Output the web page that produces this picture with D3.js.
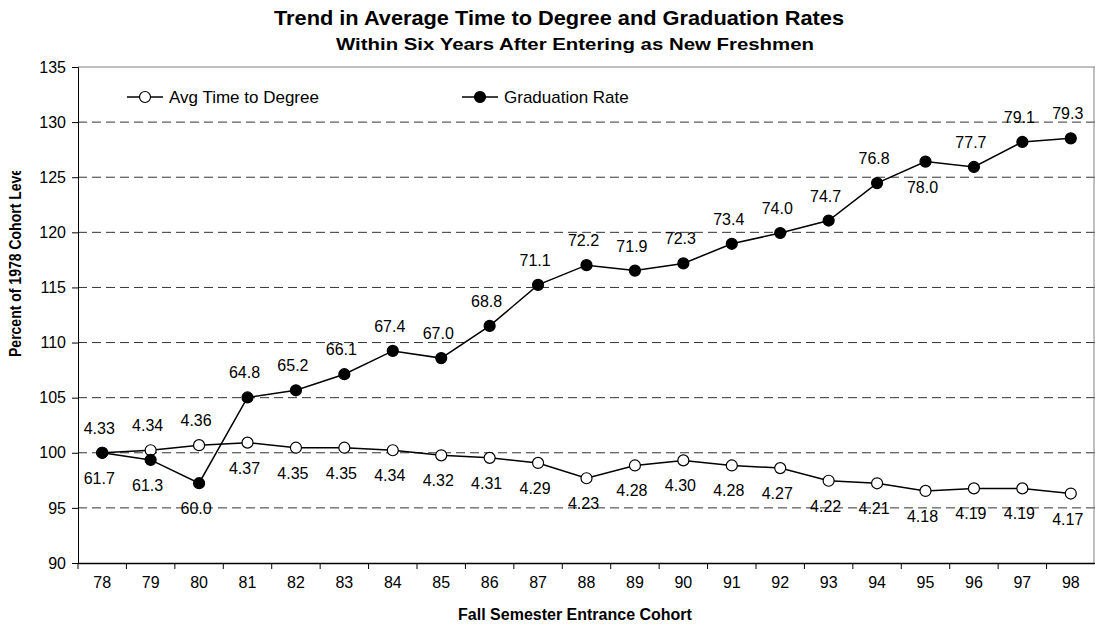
<!DOCTYPE html>
<html>
<head>
<meta charset="utf-8">
<script src="https://cdn.jsdelivr.net/npm/d3@7"></script>
<style>
  html, body { margin: 0; padding: 0; background: #fff; }
  svg { display: block; font-family: Arial, "Liberation Sans", sans-serif; }
</style>
</head>
<body>
<div id="chart"></div>
<script>
// Cohorts (fall entering year)
const cohorts = ['78','79','80','81','82','83','84','85','86','87','88','89','90','91','92','93','94','95','96','97','98'];

// Avg time to degree, as percent of 1978 level (plotted) and in years (labels)
const timeIndex = [100.0, 100.23, 100.69, 100.92, 100.46, 100.46, 100.23, 99.77, 99.54, 99.08, 97.69,
                   98.85, 99.31, 98.85, 98.61, 97.46, 97.23, 96.54, 96.77, 96.77, 96.30];
const timeLabels = ['4.33','4.34','4.36','4.37','4.35','4.35','4.34','4.32','4.31','4.29','4.23',
                    '4.28','4.30','4.28','4.27','4.22','4.21','4.18','4.19','4.19','4.17'];
const timeLabelPos = ['up','up','up','down','down','down','down','down','down','down','down',
                      'down','down','down','down','down','down','down','down','down','down'];

// Graduation rate, as percent of 1978 level (plotted) and in percent (labels)
const gradIndex = [100.0, 99.35, 97.24, 105.02, 105.67, 107.13, 109.24, 108.59, 111.51, 115.23, 117.02,
                   116.53, 117.18, 118.96, 119.94, 121.07, 124.47, 126.42, 125.93, 128.20, 128.53];
const gradLabels = ['61.7','61.3','60.0','64.8','65.2','66.1','67.4','67.0','68.8','71.1','72.2',
                    '71.9','72.3','73.4','74.0','74.7','76.8','78.0','77.7','79.1','79.3'];
const gradLabelPos = ['down','down','down','up','up','up','up','up','up','up','up',
                      'up','up','up','up','up','up','down','up','up','up'];

const yTicks = [90, 95, 100, 105, 110, 115, 120, 125, 130, 135];

const W = 1095, H = 630;
const plot = { left: 78, right: 1095, top: 67, bottom: 563 };

const svg = d3.select('#chart').append('svg')
    .attr('width', W)
    .attr('height', H);

const x = d3.scaleBand().domain(cohorts).range([plot.left, plot.right]);
const cx = d => x(d) + x.bandwidth() / 2;
const y = d3.scaleLinear().domain([90, 135]).range([plot.bottom, plot.top]);

// Titles
svg.append('text')
    .attr('x', 559).attr('y', 25)
    .attr('text-anchor', 'middle')
    .attr('font-size', 20).attr('font-weight', 'bold')
    .attr('textLength', 570).attr('lengthAdjust', 'spacingAndGlyphs')
    .text('Trend in Average Time to Degree and Graduation Rates');
svg.append('text')
    .attr('x', 575).attr('y', 50)
    .attr('text-anchor', 'middle')
    .attr('font-size', 17).attr('font-weight', 'bold')
    .attr('textLength', 478).attr('lengthAdjust', 'spacingAndGlyphs')
    .text('Within Six Years After Entering as New Freshmen');

// Grid lines
svg.append('g')
    .selectAll('line')
    .data(yTicks.filter(t => t > 90 && t < 135))
    .join('line')
    .attr('x1', plot.left).attr('x2', plot.right)
    .attr('y1', d => y(d)).attr('y2', d => y(d))
    .attr('stroke', '#333')
    .attr('stroke-width', 1)
    .attr('stroke-dasharray', '9,5');

// Plot border (top / right)
svg.append('line')
    .attr('x1', plot.left).attr('x2', plot.right)
    .attr('y1', plot.top).attr('y2', plot.top)
    .attr('stroke', '#808080');
svg.append('line')
    .attr('x1', plot.right - 1).attr('x2', plot.right - 1)
    .attr('y1', plot.top).attr('y2', plot.bottom)
    .attr('stroke', '#808080');

// Y axis
const yAxis = svg.append('g')
    .attr('transform', `translate(${plot.left},0)`)
    .call(d3.axisLeft(y).tickValues(yTicks).tickSize(6).tickPadding(6));
yAxis.select('.domain').attr('stroke', '#000');
yAxis.selectAll('text').attr('font-size', 16).attr('font-family', 'Arial, "Liberation Sans", sans-serif').attr('fill', '#000');

// X axis: labels centered in bands, ticks at band edges
const xAxis = svg.append('g')
    .attr('transform', `translate(0,${plot.bottom})`)
    .call(d3.axisBottom(x).tickSize(0).tickPadding(14));
xAxis.select('.domain').attr('stroke', '#000').attr('stroke-width', 1.3);
xAxis.selectAll('text').attr('font-size', 16).attr('font-family', 'Arial, "Liberation Sans", sans-serif').attr('fill', '#000');
xAxis.selectAll('line.edge')
    .data(cohorts)
    .join('line')
    .attr('class', 'edge')
    .attr('x1', d => x(d)).attr('x2', d => x(d))
    .attr('y1', 0).attr('y2', 6)
    .attr('stroke', '#000');

// Axis titles
svg.append('text')
    .attr('x', 575).attr('y', 620)
    .attr('text-anchor', 'middle')
    .attr('font-size', 16).attr('font-weight', 'bold')
    .text('Fall Semester Entrance Cohort');

// y title is cut off at the top in the original
svg.append('clipPath').attr('id', 'ylab-clip')
    .append('rect').attr('x', 0).attr('y', 171).attr('width', 40).attr('height', 300);
svg.append('g')
    .attr('clip-path', 'url(#ylab-clip)')
    .append('text')
    .attr('transform', 'translate(21,357) rotate(-90)')
    .attr('text-anchor', 'start')
    .attr('font-size', 16).attr('font-weight', 'bold')
    .attr('textLength', 193).attr('lengthAdjust', 'spacingAndGlyphs')
    .text('Percent of 1978 Cohort Level');

// Series
const line = d3.line().x((d, i) => cx(cohorts[i])).y(d => y(d));

function drawSeries(values, labels, pos, fill) {
    const g = svg.append('g');
    g.append('path')
        .datum(values)
        .attr('d', line)
        .attr('fill', 'none')
        .attr('stroke', '#000')
        .attr('stroke-width', 1.5);
    g.selectAll('circle')
        .data(values)
        .join('circle')
        .attr('cx', (d, i) => cx(cohorts[i]))
        .attr('cy', d => y(d))
        .attr('r', 5.5)
        .attr('fill', fill)
        .attr('stroke', '#000')
        .attr('stroke-width', 1.2);
    g.selectAll('text')
        .data(values)
        .join('text')
        .attr('x', (d, i) => cx(cohorts[i]) - 3)
        .attr('y', (d, i) => y(d) + (pos[i] === 'up' ? -19 : 31))
        .attr('text-anchor', 'middle')
        .attr('font-size', 16)
        .attr('fill', '#000')
        .text((d, i) => labels[i]);
}

drawSeries(timeIndex, timeLabels, timeLabelPos, '#fff');
drawSeries(gradIndex, gradLabels, gradLabelPos, '#000');

// Legend
const legendItems = [
    { name: 'Avg Time to Degree', fill: '#fff', x: 127 },
    { name: 'Graduation Rate', fill: '#000', x: 462 }
];
const lg = svg.append('g').selectAll('g')
    .data(legendItems)
    .join('g')
    .attr('transform', d => `translate(${d.x},97)`);
lg.append('line')
    .attr('x1', 0).attr('x2', 36)
    .attr('stroke', '#000').attr('stroke-width', 1.5);
lg.append('circle')
    .attr('cx', 18).attr('r', 5.5)
    .attr('fill', d => d.fill)
    .attr('stroke', '#000').attr('stroke-width', 1.2);
lg.append('text')
    .attr('x', 42).attr('y', 6)
    .attr('font-size', 17)
    .text(d => d.name);
</script>
</body>
</html>
